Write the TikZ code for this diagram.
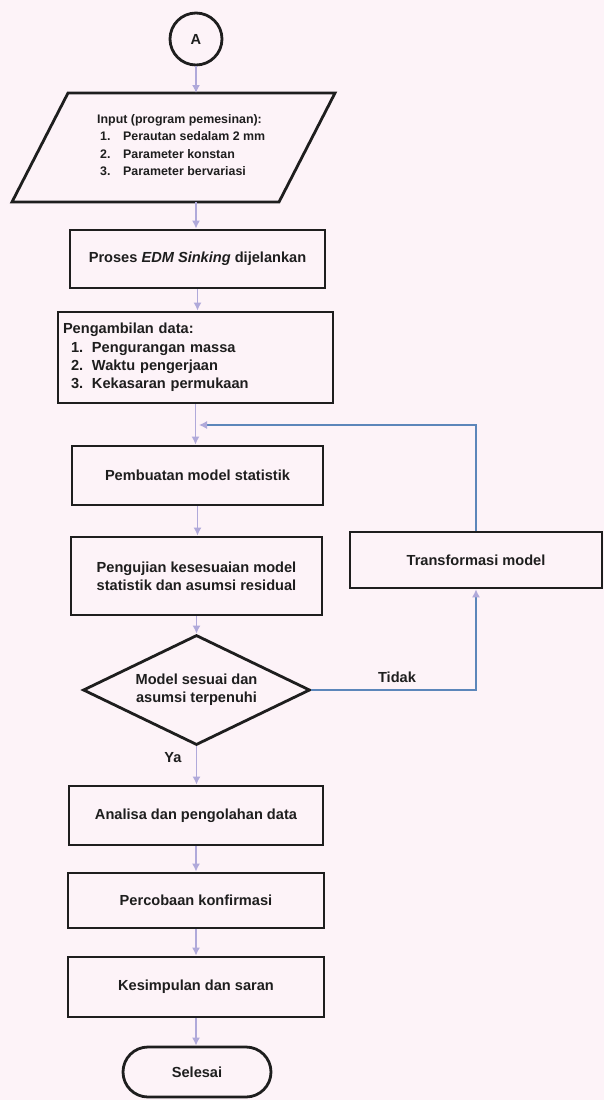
\documentclass[tikz,border=0pt]{standalone}
\usepackage{fontspec}
\setmainfont{Liberation Sans}
\usetikzlibrary{shapes.geometric,arrows.meta}
\definecolor{bg}{HTML}{FDF3F8}
\definecolor{flow}{HTML}{B0A9DA}
\definecolor{fb}{HTML}{5C86BA}
\definecolor{ink}{HTML}{1E1E1E}
\begin{document}
\begin{tikzpicture}[x=1pt,y=-1pt,
  box/.style={draw=ink,text=ink,line width=2.8pt,align=center,inner sep=0pt,font=\bfseries\fontsize{14.6}{18.4}\selectfont},
  tip/.style={-{Latex[length=8pt,width=8pt,color=flow,fill=flow]}},
  flowline/.style={draw=flow,line width=1.5pt,tip},
  fbline/.style={draw=fb,line width=1.2pt,tip},
  lbl/.style={inner sep=0pt,text=ink,font=\bfseries\fontsize{14.6}{18}\selectfont}]
\fill[bg] (0,0) rectangle (604,1100);
\useasboundingbox (0,0) rectangle (604,1100);

% start connector
\node[box,circle,minimum size=52pt] (A) at (196,39) {A};

% input parallelogram
\draw[ink,line width=2.8pt,line join=miter] (68,93) -- (335,93) -- (279,202) -- (12,202) -- cycle;
\coordinate (inTop) at (196,93);
\coordinate (inBot) at (196,202);
\node[anchor=west,align=left,inner sep=0pt,text=ink,font=\bfseries\fontsize{12.4}{17.5}\selectfont] (inp) at (97,145)
  {Input (program pemesinan):\\
   \hspace*{3pt}\makebox[23pt][l]{1.}Perautan sedalam 2 mm\\
   \hspace*{3pt}\makebox[23pt][l]{2.}Parameter konstan\\
   \hspace*{3pt}\makebox[23pt][l]{3.}Parameter bervariasi};

\node[box,minimum width=255pt,minimum height=58pt] (p1) at (197.5,259) {Proses \textit{EDM Sinking} dijelankan};
\node[box,minimum width=275pt,minimum height=91pt,align=left,text width=265pt] (p2) at (195.5,357.5)
  {Pengambilan data:\\
   \hspace*{8pt}\makebox[21pt][l]{1.}Pengurangan massa\\
   \hspace*{8pt}\makebox[21pt][l]{2.}Waktu pengerjaan\\
   \hspace*{8pt}\makebox[21pt][l]{3.}Kekasaran permukaan};
\node[box,minimum width=251pt,minimum height=59pt] (p3) at (197.5,475.5) {Pembuatan model statistik};
\node[box,minimum width=251pt,minimum height=78pt] (p4) at (196.5,576) {Pengujian kesesuaian model\\statistik dan asumsi residual};
\node[box,diamond,aspect=2.06,minimum width=227pt,minimum height=110pt] (d) at (196.5,690) {Model sesuai dan\\asumsi terpenuhi};
\node[box,minimum width=252pt,minimum height=56pt] (tr) at (476,560) {Transformasi model};
\node[box,minimum width=254pt,minimum height=59pt] (p5) at (196,815.5) {Analisa dan pengolahan data};
\node[box,minimum width=256pt,minimum height=55pt] (p6) at (196,900.5) {Percobaan konfirmasi};
\node[box,minimum width=256pt,minimum height=60pt] (p7) at (196,987) {Kesimpulan dan saran};
\node[box,rounded corners=25pt,minimum width=148pt,minimum height=50pt] (end) at (197,1072) {Selesai};

% main flow
\draw[flowline] (A.south) -- (A.south |- inTop);
\draw[flowline] (inBot) -- (inBot |- p1.north);
\draw[flowline] (p1.south) -- (p1.south |- p2.north);
\draw[flowline] (p2.south) -- (p2.south |- p3.north);
\draw[flowline] (p3.south) -- (p3.south |- p4.north);
\draw[flowline] (p4.south) -- (p4.south |- d.north);
\draw[flowline] (d.south) -- (d.south |- p5.north);
\draw[flowline] (p5.south) -- (p5.south |- p6.north);
\draw[flowline] (p6.south) -- (p6.south |- p7.north);
\draw[flowline] (p7.south) -- (p7.south |- end.north);

% feedback loop
\coordinate (join) at (199,425);
\draw[fbline] (d.east) -| (tr.south);
\draw[fbline] (tr.north) |- (join);

\node[lbl] (tidak) at (397,677) {Tidak};
\node[lbl] (ya) at (173,758) {Ya};
\end{tikzpicture}
\end{document}
